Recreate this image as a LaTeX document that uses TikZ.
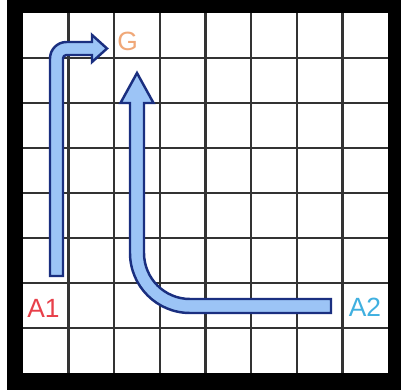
\documentclass[tikz,border=0pt]{standalone}
\usepackage{fontspec}
\setmainfont{Liberation Sans}
\definecolor{arrowfill}{HTML}{9CC4F6}
\definecolor{arrowline}{HTML}{1A2F80}
\definecolor{gridcol}{HTML}{333333}
\definecolor{gcol}{HTML}{F0A878}
\definecolor{aonecol}{HTML}{E8404A}
\definecolor{atwocol}{HTML}{40B0E0}
\tikzset{
  gridline/.style={draw=gridcol, line width=1.4pt},
  bigarrow/.style={fill=arrowfill, draw=arrowline, line width=1.4pt, line join=miter},
  lbl/.style={font=\fontsize{15}{15}\selectfont, inner sep=0pt}
}
\begin{document}
\begin{tikzpicture}[x=0.02cm, y=0.02cm]
\useasboundingbox (0,0) rectangle (401,391);
\fill[white] (0,0) rectangle (401,391);
% black frame
\fill[black] (7,1) rectangle (401,391);
\fill[white] (23,18) rectangle (388,378);
% grid
\foreach \k in {1,...,7} {
  \draw[gridline] ({23+\k*45.625},18) -- ({23+\k*45.625},378);
  \draw[gridline] (23,{378-\k*45}) -- (388,{378-\k*45});
}
% arrow from A1 to G
\draw[bigarrow] (50,115) -- (50,332.5) arc[start angle=180, end angle=90, radius=16.5]
  -- (92,349) -- (92,356) -- (107,342.5) -- (92,329) -- (92,336) -- (66.5,336)
  arc[start angle=90, end angle=180, radius=3.5] -- (63,115) -- cycle;
% arrow from A2 up
\draw[bigarrow] (331,92) -- (190,92) arc[start angle=270, end angle=180, radius=46]
  -- (144,288) -- (153.5,288) -- (137,318) -- (120.5,288) -- (130,288) -- (130,138)
  arc[start angle=180, end angle=270, radius=60] -- (331,78) -- cycle;
% labels
\node[lbl, text=gcol] (G) at (127.5,350) {G};
\node[lbl, text=aonecol] (A1) at (43.5,83) {A1};
\node[lbl, text=atwocol] (A2) at (365,83.5) {A2};
\end{tikzpicture}
\end{document}
